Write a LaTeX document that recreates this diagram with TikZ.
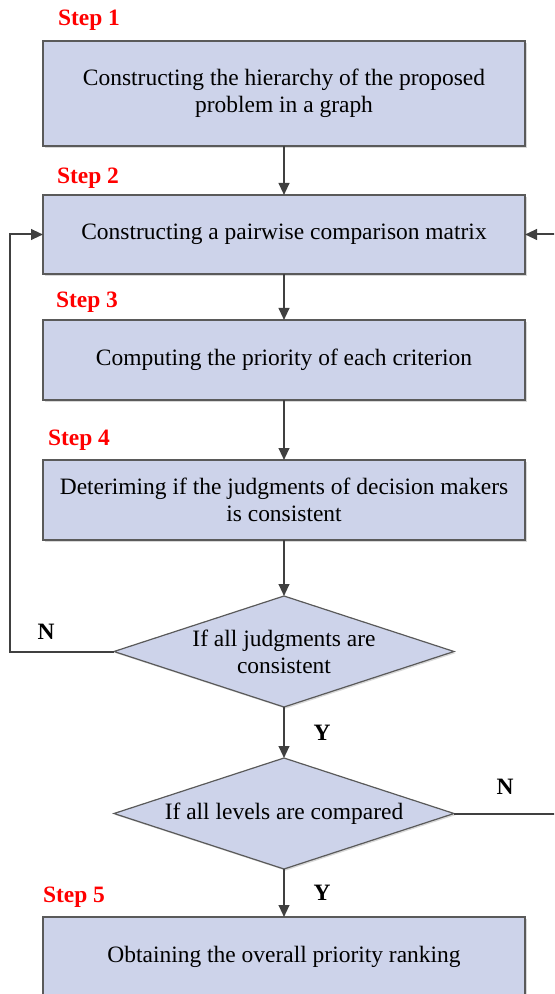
\documentclass[tikz,border=0pt]{standalone}
\usepackage{fontspec}
\setmainfont{Liberation Serif}
\usetikzlibrary{arrows.meta,positioning,shapes.geometric,shadows}
\definecolor{boxfill}{HTML}{CDD3EA}
\definecolor{boxline}{HTML}{5A5A5A}
\definecolor{flowarr}{HTML}{404040}

\begin{document}
\begin{tikzpicture}[x=0.75pt,y=-0.75pt,
	stepbox/.style={rectangle, draw=boxline, fill=boxfill, line width=0.9pt, outer sep=0pt, minimum width=361.5pt, align=center, font=\fontsize{17.6}{20.3}\selectfont, drop shadow={shadow xshift=1.2pt, shadow yshift=-1.2pt, fill=black!30, opacity=0.5}},
	decision/.style={diamond, aspect=3.06, draw=boxline, fill=boxfill, line width=0.9pt, outer sep=0pt, minimum width=255pt, minimum height=83.25pt, inner sep=0pt, align=center, font=\fontsize{17.6}{20.3}\selectfont, drop shadow={shadow xshift=1.2pt, shadow yshift=-1.2pt, fill=black!30, opacity=0.5}},
	steplbl/.style={text=red, font=\fontsize{17.6}{20}\selectfont\bfseries},
	yn/.style={font=\fontsize{17.6}{20}\selectfont\bfseries},
	flow/.style={draw=flowarr, line width=1.5pt, -{Triangle[length=9pt,width=8pt]}},
	flowline/.style={draw=flowarr, line width=1.5pt, -}]
	\useasboundingbox (0,0) rectangle (554,994);
	\clip (0,0) rectangle (554,994);
	
		\node[stepbox, minimum height=78.75pt] (box1) at (284,93.5) {Constructing the hierarchy of the proposed\\problem in a graph};
		\node[stepbox, minimum height=59.25pt, below=36.75pt of box1] (box2) {Constructing a pairwise comparison matrix};
		\node[stepbox, minimum height=60pt, below=34.5pt of box2] (box3) {Computing the priority of each criterion};
		\node[stepbox, minimum height=60pt, below=45pt of box3] (box4) {Deteriming if the judgments of decision makers\\is consistent};
		\node[decision, below=42pt of box4] (d1) {If all judgments are\\consistent};
		\node[decision, below=38.25pt of d1] (d2) {If all levels are compared};
		\node[stepbox, minimum height=60pt, below=36pt of d2] (box5) {Obtaining the overall priority ranking};
		
		\node[steplbl] (s1) at (89,20) {Step 1};
		\node[steplbl] (s2) at (88,178) {Step 2};
		\node[steplbl] (s3) at (87,302) {Step 3};
		\node[steplbl] (s4) at (79,440) {Step 4};
		\node[steplbl] (s5) at (74,897) {Step 5};
		
		\node[yn] (n1) at (46,632) {N};
		\node[yn] (n2) at (505,787) {N};
		\node[yn] (y1) at (322,733) {Y};
		\node[yn] (y2) at (322,893) {Y};
		
		\coordinate (lft) at (10,0);
		\coordinate (rgt) at (580,0);
		
		\draw[flow] (box1) to (box2);
		\draw[flow] (box2) to (box3);
		\draw[flow] (box3) to (box4);
		\draw[flow] (box4) to (d1);
		\draw[flow] (d1) to (d2); % Y
		\draw[flow] (d2) to (box5); % Y
		
		\draw[flow] (d1.west) -- (d1.west -| lft) |- (box2.west); % N
		\draw[flow] (d2.east) -- (d2.east -| rgt) |- (box2.east); % N
		
	\end{tikzpicture}
\end{document}
